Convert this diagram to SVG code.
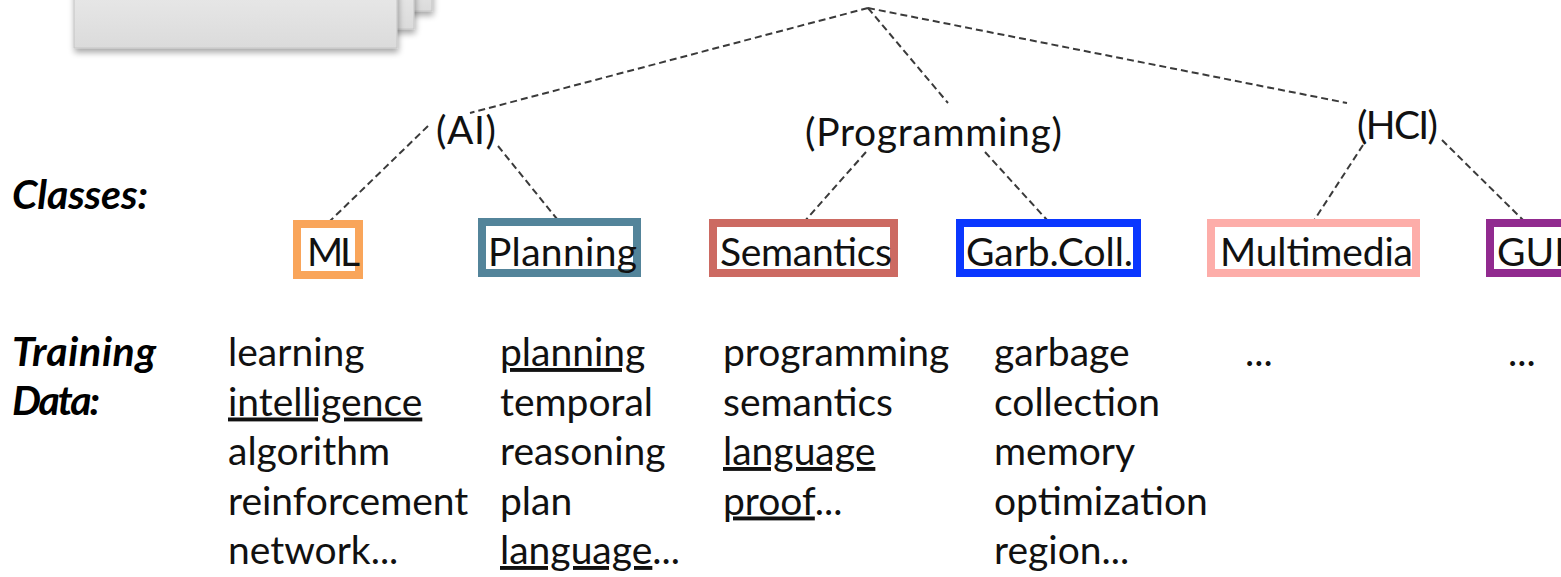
<svg xmlns="http://www.w3.org/2000/svg" width="1561" height="577" viewBox="0 0 1561 577">
  <style>
    .t { font-family: Lato, "Liberation Sans", sans-serif; font-size: 39px; fill: #111; }
    .hd { font-family: Lato, "Liberation Sans", sans-serif; font-size: 41px; font-weight: bold; font-style: italic; fill: #000; }
    .u { text-decoration: underline; text-decoration-skip-ink: none; text-decoration-thickness: 2.5px; }
    .cls { fill: #fff; stroke-width: 8; }
    .edge { fill: none; stroke: #3a3a3a; stroke-width: 2; stroke-dasharray: 7 4; }
    .card { fill: url(#cardGrad); stroke: #c4c4c4; stroke-width: 1; filter: url(#cardShadow); }
  </style>
  <defs>
    <linearGradient id="cardGrad" x1="0" y1="0" x2="0" y2="1">
      <stop offset="0" stop-color="#efefef"/>
      <stop offset="1" stop-color="#dbdbdb"/>
    </linearGradient>
    <filter id="cardShadow" x="-10%" y="-10%" width="125%" height="160%">
      <feGaussianBlur in="SourceAlpha" stdDeviation="3"/>
      <feOffset dx="1" dy="4" result="b"/>
      <feComponentTransfer><feFuncA type="linear" slope="0.35"/></feComponentTransfer>
      <feMerge><feMergeNode/><feMergeNode in="SourceGraphic"/></feMerge>
    </filter>
  </defs>

  <rect width="1561" height="577" fill="#fff"/>

  <!-- stacked slide cards, top left -->
  <g id="card-stack">
    <rect class="card" x="110" y="-40" width="322" height="51"/>
    <rect class="card" x="92" y="-40" width="322" height="69"/>
    <rect class="card" x="74" y="-40" width="323" height="88"/>
  </g>

  <!-- connectors -->
  <g id="connectors">
    <line class="edge" x1="868" y1="8" x2="470" y2="113"/>
    <line class="edge" x1="868" y1="8" x2="948" y2="103"/>
    <line class="edge" x1="868" y1="8" x2="1347" y2="103"/>
    <line class="edge" x1="428" y1="126" x2="330" y2="221"/>
    <line class="edge" x1="498" y1="146" x2="557" y2="219"/>
    <line class="edge" x1="866" y1="152" x2="804" y2="222"/>
    <line class="edge" x1="985" y1="152" x2="1047" y2="220"/>
    <line class="edge" x1="1363" y1="145" x2="1313" y2="222"/>
    <line class="edge" x1="1442" y1="140" x2="1525" y2="222"/>
  </g>

  <!-- group labels -->
  <g id="group-ai"><text class="t" x="436" y="144" textLength="60">(AI)</text></g>
  <g id="group-programming"><text class="t" x="805" y="146" textLength="257">(Programming)</text></g>
  <g id="group-hci"><text class="t" x="1357" y="139" textLength="81">(HCI)</text></g>

  <!-- row headings -->
  <g id="heading-classes"><text class="hd" x="12" y="209" textLength="136">Classes:</text></g>
  <g id="heading-training">
    <text class="hd" x="12" y="366" textLength="144">Training</text>
    <text class="hd" x="12" y="415" textLength="88">Data:</text>
  </g>

  <!-- class nodes -->
  <g id="class-ml">
    <rect class="cls" x="297" y="224" width="62" height="51" stroke="#F9A55A"/>
    <text class="t" x="307" y="266" textLength="53">ML</text>
  </g>
  <g id="class-planning">
    <rect class="cls" x="482" y="222" width="155" height="51" stroke="#53849A"/>
    <text class="t" x="488" y="266" textLength="149">Planning</text>
  </g>
  <g id="class-semantics">
    <rect class="cls" x="713" y="223" width="181" height="50" stroke="#CC6A62"/>
    <text class="t" x="720" y="266" textLength="172">Semantics</text>
  </g>
  <g id="class-garbcoll">
    <rect class="cls" x="960" y="223" width="177" height="50" stroke="#0A37FF"/>
    <text class="t" x="966" y="266" textLength="167">Garb.Coll.</text>
  </g>
  <g id="class-multimedia">
    <rect class="cls" x="1211" y="223" width="205" height="50" stroke="#FDADA9"/>
    <text class="t" x="1220" y="266" textLength="193">Multimedia</text>
  </g>
  <g id="class-gui">
    <rect class="cls" x="1490" y="223" width="90" height="50" stroke="#912A8F"/>
    <text class="t" x="1497" y="266">GUI</text>
  </g>

  <!-- training data words -->
  <g id="data-ml" class="t">
    <text x="228" y="366">learning</text>
    <text x="228" y="415.5"><tspan class="u">intelligence</tspan></text>
    <text x="228" y="465">algorithm</text>
    <text x="228" y="514.5">reinforcement</text>
    <text x="228" y="564">network...</text>
  </g>
  <g id="data-planning" class="t">
    <text x="500" y="366"><tspan class="u">planning</tspan></text>
    <text x="500" y="415.5">temporal</text>
    <text x="500" y="465">reasoning</text>
    <text x="500" y="514.5">plan</text>
    <text x="500" y="564"><tspan class="u">language</tspan>...</text>
  </g>
  <g id="data-semantics" class="t">
    <text x="723" y="366">programming</text>
    <text x="723" y="415.5">semantics</text>
    <text x="723" y="465"><tspan class="u">language</tspan></text>
    <text x="723" y="514.5"><tspan class="u">proof</tspan>...</text>
  </g>
  <g id="data-garbcoll" class="t">
    <text x="994" y="366">garbage</text>
    <text x="994" y="415.5">collection</text>
    <text x="994" y="465">memory</text>
    <text x="994" y="514.5">optimization</text>
    <text x="994" y="564">region...</text>
  </g>
  <g id="data-multimedia" class="t"><text x="1245" y="366">...</text></g>
  <g id="data-gui" class="t"><text x="1508" y="366">...</text></g>
</svg>
